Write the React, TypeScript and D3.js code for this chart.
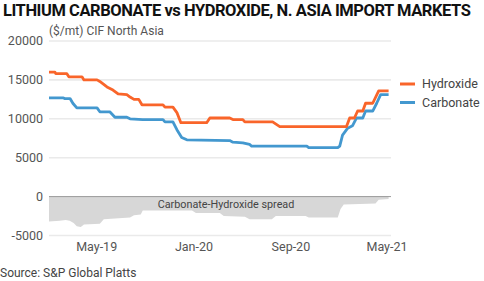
import React from "react";
import * as d3 from "d3";

const hydroxideDates = ["2019-01-01","2019-01-16","2019-01-18","2019-02-15","2019-02-20","2019-03-25","2019-03-30","2019-05-02","2019-05-09","2019-05-27","2019-06-11","2019-06-24","2019-07-16","2019-07-24","2019-08-03","2019-08-15","2019-08-23","2019-10-15","2019-10-20","2019-11-09","2019-11-19","2019-11-29","2020-02-02","2020-02-10","2020-03-31","2020-04-08","2020-05-03","2020-05-08","2020-07-17","2020-08-04","2021-01-19","2021-01-27","2021-02-08","2021-02-16","2021-03-01","2021-03-08","2021-03-26","2021-04-10","2021-05-05"];
const hydroxideValues = [16000,16000,15800,15800,15400,15400,15000,15000,14800,14100,13700,13200,13100,12800,12500,12500,11800,11800,11500,11500,10800,9500,9500,10100,10100,9900,9900,9600,9600,9000,9000,10100,10100,11000,11000,12000,12000,13600,13600];

const carbonateDates = ["2019-01-01","2019-02-05","2019-02-10","2019-02-23","2019-03-02","2019-03-12","2019-05-02","2019-05-09","2019-06-03","2019-06-16","2019-07-16","2019-07-24","2019-08-25","2019-10-15","2019-10-20","2019-11-09","2019-11-19","2019-12-01","2019-12-14","2020-03-31","2020-04-08","2020-05-03","2020-05-20","2020-05-25","2020-10-11","2020-10-16","2020-12-28","2021-01-02","2021-01-09","2021-01-22","2021-02-03","2021-02-13","2021-03-01","2021-03-08","2021-03-26","2021-04-05","2021-04-15","2021-05-05"];
const carbonateValues = [12700,12700,12600,12600,12000,11400,11400,10900,10900,10200,10200,10000,9900,9900,9600,9600,8600,7600,7300,7200,7000,6900,6700,6500,6500,6300,6300,6500,7900,8800,9100,10100,10100,11000,11000,12000,13100,13100];

const spreadDates = ["2019-01-01","2019-01-28","2019-02-12","2019-02-22","2019-03-04","2019-03-12","2019-03-22","2019-03-30","2019-05-09","2019-05-19","2019-07-24","2019-08-03","2019-08-20","2019-08-25","2019-12-27","2020-01-06","2020-03-06","2020-03-16","2020-05-08","2020-05-20","2020-07-15","2020-07-25","2020-10-08","2020-10-16","2020-12-28","2021-01-04","2021-01-12","2021-04-02","2021-04-10","2021-05-05"];
const spreadValues = [-3200,-3100,-3000,-3100,-3400,-3800,-3900,-3600,-3500,-2900,-2700,-2400,-2300,-1800,-1800,-2100,-2100,-2500,-2600,-2900,-2900,-2500,-2500,-2700,-2700,-1600,-1000,-900,-400,-300];

const yTicks = [20000, 15000, 10000, 5000, 0, -5000];
const xTickDates = ["2019-05-01", "2020-01-01", "2020-09-01", "2021-05-01"];
const xTickLabels = ["May-19", "Jan-20", "Sep-20", "May-21"];
const seriesNames = ["Hydroxide", "Carbonate"];

const ORANGE = "#F9652A";
const BLUE = "#4398CF";
const FONT = "Roboto, 'DejaVu Sans', sans-serif";

export default function App() {
  const W = 484, H = 281;
  const parse = (s: string) => new Date(s + "T00:00:00");
  const x = d3.scaleTime().domain([parse("2019-01-01"), parse("2021-05-06")]).range([49, 389]);
  const y = d3.scaleLinear().domain([-5000, 20000]).range([235.5, 41]);

  const hyd = hydroxideDates.map((d, i) => ({ d: parse(d), v: hydroxideValues[i] }));
  const carb = carbonateDates.map((d, i) => ({ d: parse(d), v: carbonateValues[i] }));
  const spr = spreadDates.map((d, i) => ({ d: parse(d), v: spreadValues[i] }));

  const line = d3.line<{ d: Date; v: number }>().x(p => x(p.d)).y(p => y(p.v));
  const area = d3.area<{ d: Date; v: number }>().x(p => x(p.d)).y0(y(0)).y1(p => y(p.v));

  return (
    <svg width={W} height={H} style={{ position: "absolute", left: 0, top: 0, background: "#fff" }}>
      <rect width={W} height={H} fill="#fff" />
      <text x={3} y={16} fontFamily={FONT} fontWeight={700} fontSize={16.5} fill="#111"
        letterSpacing={-0.45}>LITHIUM CARBONATE vs HYDROXIDE, N. ASIA IMPORT MARKETS</text>
      <text x={49} y={35} fontFamily={FONT} fontSize={12} fill="#555">($/mt) CIF North Asia</text>

      {yTicks.map(t => (
        <g key={t}>
          {t !== 0 && <line x1={49} x2={391} y1={y(t)} y2={y(t)} stroke="#EAEAEA" strokeWidth={1.6} />}
          <text x={43} y={y(t)} dy="0.35em" textAnchor="end" fontFamily={FONT} fontSize={12.5} fill="#555">{t}</text>
        </g>
      ))}

      <path d={area(spr) || ""} fill="#D7D7D7" />
      <line x1={49} x2={391} y1={y(0)} y2={y(0)} stroke="#9A9A9A" strokeWidth={1} />
      <text x={226} y={207.5} textAnchor="middle" fontFamily={FONT} fontSize={10.8} fill="#444">Carbonate-Hydroxide spread</text>

      <path d={line(carb) || ""} fill="none" stroke={BLUE} strokeWidth={2.8} strokeLinejoin="round" />
      <path d={line(hyd) || ""} fill="none" stroke={ORANGE} strokeWidth={2.8} strokeLinejoin="round" />

      {xTickDates.map((d, i) => (
        <text key={d} x={x(parse(d))} y={251} textAnchor="middle" fontFamily={FONT} fontSize={12.5} fill="#555">{xTickLabels[i]}</text>
      ))}

      {seriesNames.map((n, i) => (
        <g key={n}>
          <line x1={400} x2={415} y1={84 + i * 18.5} y2={84 + i * 18.5} stroke={i === 0 ? ORANGE : BLUE} strokeWidth={3} />
          <text x={422} y={84 + i * 18.5} dy="0.35em" fontFamily={FONT} fontSize={12.5} fill="#444">{n}</text>
        </g>
      ))}

      <text x={0} y={277} fontFamily={FONT} fontSize={12} fill="#444">Source: S&amp;P Global Platts</text>
    </svg>
  );
}
